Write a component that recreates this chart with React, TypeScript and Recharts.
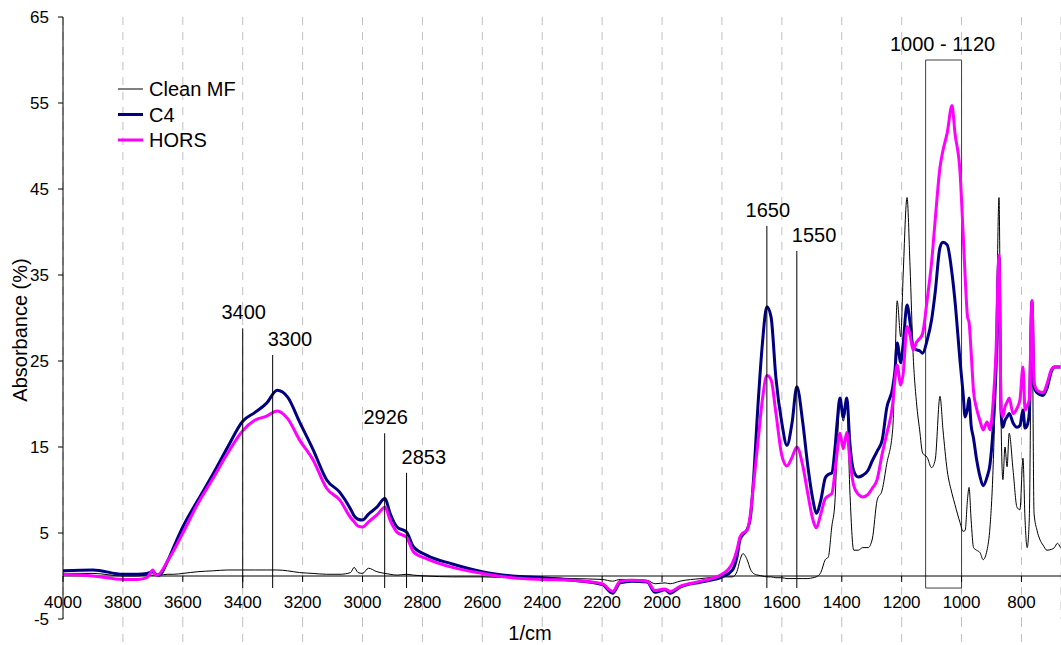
import React from "react";
import {
  LineChart,
  Line,
  XAxis,
  YAxis,
  CartesianGrid,
  ReferenceLine,
  ReferenceArea,
} from "recharts";

// wavenumber grid (1/cm), shared by all three spectra
const wavenumbers = [
  4000, 3900, 3800, 3750, 3720, 3700, 3690, 3680, 3650, 3630,
  3600, 3550, 3500, 3450, 3400, 3360, 3320, 3285, 3250, 3210,
  3165, 3120, 3075, 3040, 3028, 3015, 3000, 2980, 2952, 2925,
  2908, 2885, 2853, 2830, 2785, 2700, 2600, 2500, 2400, 2300,
  2200, 2165, 2140, 2100, 2050, 2023, 1990, 1973, 1940, 1870,
  1800, 1765, 1750, 1740, 1730, 1716, 1705, 1695, 1680, 1665,
  1650, 1636, 1620, 1600, 1583, 1566, 1550, 1530, 1513, 1496,
  1485, 1470, 1455, 1445, 1433, 1423, 1415, 1406, 1395, 1383,
  1373, 1360, 1345, 1330, 1312, 1298, 1282, 1265, 1250, 1230,
  1222, 1215, 1203, 1195, 1182, 1172, 1162, 1150, 1140, 1130,
  1115, 1100, 1088, 1072, 1062, 1048, 1032, 1022, 1005, 995,
  988, 980, 975, 968, 960, 950, 938, 928, 915, 905,
  895, 885, 875, 868, 862, 855, 848, 841, 828, 815,
  805, 795, 788, 781, 774, 765, 758, 748, 738, 728,
  715, 700, 690, 680, 670,
];

const cleanMf = [
  0.3, 0.3, 0.0, 0.0, 0.1, 0.1, 0.1, 0.1, 0.2, 0.2,
  0.3, 0.5, 0.6, 0.7, 0.7, 0.7, 0.7, 0.7, 0.6, 0.4,
  0.3, 0.2, 0.2, 0.4, 1.0, 0.4, 0.3, 0.9, 0.5, 0.3,
  0.2, 0.1, 0.2, 0.1, 0.0, -0.1, -0.1, -0.2, -0.2, -0.3,
  -0.4, -0.6, -0.4, -0.4, -0.5, -0.9, -0.8, -0.9, -0.6, -0.3,
  -0.1, -0.1, 0.5, 1.8, 2.6, 1.9, 0.8, 0.3, 0.1, 0.0,
  -0.1, -0.1, -0.2, -0.2, -0.3, -0.3, -0.3, -0.3, -0.3, -0.2,
  -0.1, 0.4, 1.9, 2.2, 5.8, 8.5, 15, 20.1, 18, 20.1,
  10, 3.0, 3.0, 3.3, 3.3, 4.3, 8.8, 10, 13, 17,
  25, 32, 27.8, 35, 44, 36, 26, 20, 17, 14.3,
  13.8, 12.6, 13.5, 20.9, 17, 12.3, 9.6, 8.3, 6.2, 5.2,
  5.3, 9.0, 10.3, 6.5, 3.3, 3.0, 2.7, 1.9, 3.0, 5.7,
  12.3, 25, 44, 18, 11.2, 15, 12.7, 16.6, 12.3, 8.0,
  7.7, 13.7, 6.5, 3.3, 6.5, 32, 7.3, 5.3, 4.2, 3.6,
  3.0, 3.1, 3.3, 3.8, 3.3,
];

const c4 = [
  0.6, 0.7, 0.2, 0.2, 0.3, 0.5, 0.2, 0.1, 1.8, 3.4,
  5.7, 8.8, 11.8, 15.0, 18.0, 19.0, 20.1, 21.6, 20.8, 17.9,
  14.7, 11.2, 9.7, 7.8, 7.0, 6.6, 6.5, 7.2, 8.0, 9.0,
  7.3, 5.7, 5.1, 3.4, 2.4, 1.4, 0.5, 0.0, -0.2, -0.5,
  -1.0, -2.0, -0.8, -0.6, -0.7, -1.9, -1.6, -2.0, -1.3, -0.7,
  -0.1, 0.7, 2.2, 4.2, 4.8, 5.4, 6.8, 11, 19.7, 27,
  31.3, 30.1, 23.1, 17.8, 15.2, 17.8, 22.0, 17.8, 12.7, 8.8,
  7.3, 8.8, 11.4, 11.8, 12.0, 14.7, 18, 20.7, 18.5, 20.7,
  15.5, 12.2, 11.5, 11.7, 12.3, 13.4, 14.5, 15.8, 19.5, 21.9,
  24, 27.1, 24.8, 27, 31.5, 29.5, 26.6, 26.3, 26.2, 25.9,
  27.4, 29.8, 33, 38.2, 38.8, 38.5, 35.2, 32, 25, 21.3,
  18.5, 19.5, 20.7, 17.5, 16, 13.6, 11.5, 10.5, 11.5, 13,
  17, 24, 37, 19, 17.3, 18.1, 18.5, 18.9, 17.8, 17.3,
  17.5, 19.3, 17.2, 17.5, 18.9, 32, 22, 21.3, 21.1, 21,
  21.8, 23.8, 24.3, 24.3, 24.3,
];

const hors = [
  0.2, 0.0, -0.4, -0.4, -0.2, 0.7, 0.1, 0.2, 1.8, 3.0,
  5.0, 8.4, 11.3, 14.3, 16.9, 18.1, 18.6, 19.2, 18.3, 15.8,
  13.5, 10.2, 8.8, 6.8, 6.3, 5.8, 5.7, 6.3, 7.1, 8.0,
  6.5, 5.1, 4.5, 2.8, 2.0, 1.0, 0.3, -0.2, -0.4, -0.5,
  -0.9, -1.8, -0.6, -0.5, -0.6, -1.7, -1.5, -1.8, -1.2, -0.6,
  0.2, 1.5, 3.0, 4.5, 5.0, 5.3, 7.2, 10.5, 15.5, 20.5,
  23.3, 22.8, 19, 14, 12.8, 13.8, 15, 12.8, 9.5, 6.5,
  5.6, 7.2, 9.0, 9.3, 9.6, 12, 14.5, 16.6, 14.8, 16.7,
  13.5, 10.5, 9.5, 9.2, 9.5, 10.2, 11.2, 14.2, 16.5, 20,
  23, 24.5, 22.2, 23.5, 29, 28, 26.3, 27.2, 27.6, 28.2,
  32.1, 36.5, 41.4, 47.5, 49.5, 51.5, 54.7, 51.5, 46.9, 40,
  34.8, 30.1, 29.5, 26, 21.5, 19.5, 18, 17, 17.9, 17,
  20, 26, 37.3, 19.5, 18.5, 19.7, 20.2, 20.7, 18.9, 19.5,
  20.5, 24.3, 19.3, 19.8, 20.5, 32, 22.5, 21.6, 21.4, 21.3,
  22.3, 24, 24.3, 24.3, 24.3,
];

// marked band positions and the height of each marker line
const peakWn = [3400, 3300, 2926, 2853, 1650, 1550];
const peakTop = [28.8, 25.7, 16.6, 12.0, 40.7, 37.8];
const markerBottom = -1.4;

// boxed region 1000 - 1120
const bandFrom = 1000;
const bandTo = 1120;
const bandTop = 60;

const xTicks = [4000, 3800, 3600, 3400, 3200, 3000, 2800, 2600, 2400, 2200, 2000, 1800, 1600, 1400, 1200, 1000, 800];
const yTicks = [-5, 5, 15, 25, 35, 45, 55, 65];

const seriesNames = ["Clean MF", "C4", "HORS"];

const FONT = '"Liberation Sans", Arial, sans-serif';
const W = 1061;
const H = 645;
const PLOT_TOP = 17;
const X_AXIS_H = 26;
const Y_AXIS_W = 63;
const PLOT_H = H - PLOT_TOP - X_AXIS_H;
const Y_MIN = -5;
const Y_MAX = 65;
// pixel row of the zero line, where the category axis crosses
const ZERO_Y = PLOT_TOP + (PLOT_H * Y_MAX) / (Y_MAX - Y_MIN);
const PLOT_BOTTOM = PLOT_TOP + PLOT_H;

const GRID_COLOR = "#c0c0c0";
const GRID_DASH = "8 7";

const lineStyles = [
  { key: "clean", color: "#000000", width: 1 },
  { key: "c4", color: "#000080", width: 3 },
  { key: "hors", color: "#ff00ff", width: 3 },
];

// labels for 3300, 2853 and 1550 sit to the right of their line
const peakAnchor = ["middle", "start", "middle", "start", "middle", "start"];

const rows = wavenumbers.map((wn, i) => ({
  wn,
  clean: cleanMf[i],
  c4: c4[i],
  hors: hors[i],
}));

// tick mark hangs from the zero line; the dashed gridline runs on past the plot bottom
const XTick = ({ x, payload }: any) => (
  <g>
    {payload.value !== 4000 && (
      <line
        x1={x}
        x2={x}
        y1={PLOT_BOTTOM}
        y2={H}
        stroke={GRID_COLOR}
        strokeDasharray={GRID_DASH}
      />
    )}
    <line x1={x} x2={x} y1={ZERO_Y} y2={ZERO_Y + 6} stroke="#000" />
    <text
      x={x}
      y={ZERO_Y + 32}
      textAnchor="middle"
      fontSize={17}
      fontFamily={FONT}
      fill="#000"
    >
      {payload.value}
    </text>
  </g>
);

const PeakLabel = ({ viewBox, text, anchor }: any) => {
  if (!viewBox) return null;
  const top = Math.min(viewBox.y, viewBox.y + viewBox.height);
  const x = viewBox.x + (anchor === "start" ? -5 : 1);
  return (
    <text x={x} y={top - 9} textAnchor={anchor} fontSize={20} fontFamily={FONT} fill="#000">
      {text}
    </text>
  );
};

const BandLabel = ({ viewBox }: any) => {
  if (!viewBox) return null;
  return (
    <text
      x={viewBox.x + viewBox.width / 2 - 1}
      y={viewBox.y - 9}
      textAnchor="middle"
      fontSize={20}
      fontFamily={FONT}
      fill="#000"
    >
      {`${bandFrom} - ${bandTo}`}
    </text>
  );
};

const Legend = () => (
  <svg
    width={300}
    height={170}
    style={{ position: "absolute", left: 0, top: 0, pointerEvents: "none" }}
  >
    {seriesNames.map((name, i) => {
      const y = 89 + i * 25.5;
      return (
        <g key={name}>
          <line
            x1={118}
            x2={143}
            y1={y}
            y2={y}
            stroke={lineStyles[i].color}
            strokeWidth={lineStyles[i].width}
          />
          <text x={149} y={y + 7} fontSize={20} fontFamily={FONT} fill="#000">
            {name}
          </text>
        </g>
      );
    })}
  </svg>
);

export default function App() {
  return (
    <div style={{ position: "absolute", left: 0, top: 0, width: W, height: H, background: "#fff" }}>
      <LineChart
        width={W}
        height={H}
        data={rows}
        margin={{ top: PLOT_TOP, right: 0, bottom: 0, left: 0 }}
      >
        <CartesianGrid
          horizontal={false}
          vertical
          stroke={GRID_COLOR}
          strokeDasharray={GRID_DASH}
        />
        <XAxis
          type="number"
          dataKey="wn"
          domain={[668, 4000]}
          reversed
          ticks={xTicks}
          interval={0}
          height={X_AXIS_H}
          axisLine={false}
          tickLine={false}
          tick={<XTick />}
          label={() => (
            <text x={530} y={640} textAnchor="middle" fontSize={20} fontFamily={FONT} fill="#000">
              1/cm
            </text>
          )}
        />
        <YAxis
          type="number"
          domain={[Y_MIN, Y_MAX]}
          ticks={yTicks}
          interval={0}
          width={Y_AXIS_W}
          axisLine={{ stroke: "#000" }}
          tickLine={{ stroke: "#000" }}
          tickSize={5}
          tickMargin={9}
          tick={{ fill: "#000", fontSize: 17, fontFamily: FONT }}
          label={() => (
            <text
              transform="translate(27,330) rotate(-90)"
              textAnchor="middle"
              fontSize={20}
              fontFamily={FONT}
              fill="#000"
            >
              Absorbance (%)
            </text>
          )}
        />
        <ReferenceLine y={0} stroke="#000" strokeWidth={1} />

        {lineStyles.map((s, i) => (
          <Line
            key={s.key}
            name={seriesNames[i]}
            type="monotone"
            dataKey={s.key}
            stroke={s.color}
            strokeWidth={s.width}
            dot={false}
            activeDot={false}
            isAnimationActive={false}
          />
        ))}

        {peakWn.map((wn, i) => (
          <ReferenceLine
            key={wn}
            segment={[
              { x: wn, y: markerBottom },
              { x: wn, y: peakTop[i] },
            ]}
            stroke="#000"
            strokeWidth={1}
            label={(props: any) => (
              <PeakLabel {...props} text={String(wn)} anchor={peakAnchor[i]} />
            )}
          />
        ))}

        <ReferenceArea
          x1={bandTo}
          x2={bandFrom}
          y1={markerBottom}
          y2={bandTop}
          fill="none"
          stroke="#404040"
          strokeWidth={1}
          label={(props: any) => <BandLabel {...props} />}
        />
      </LineChart>
      <Legend />
    </div>
  );
}
